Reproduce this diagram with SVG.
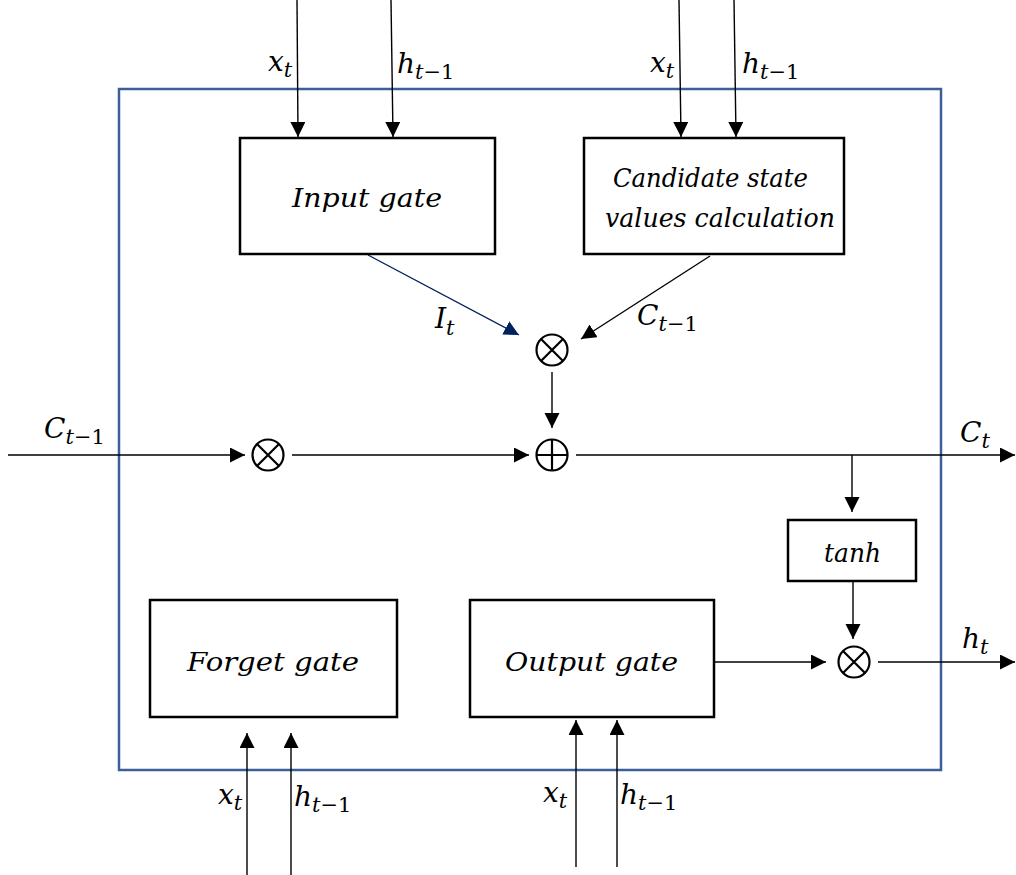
<svg xmlns="http://www.w3.org/2000/svg" width="1016" height="875" viewBox="0 0 1016 875">
<defs>
<style>
.box{fill:#fff;stroke:#000;stroke-width:2.5}
.frame{fill:none;stroke:#3C5F9C;stroke-width:2.5}
.ln{stroke:#000;stroke-width:1.4;fill:none}
.op{fill:none;stroke:#000;stroke-width:2.2}
.t{font-family:"DejaVu Serif","Liberation Serif",serif;font-style:italic;font-size:26px;fill:#000}
.m{font-family:"DejaVu Serif","Liberation Serif",serif;font-style:italic;font-size:28px;fill:#000}
.s{font-size:21px}
.u{font-style:normal}
</style>
<marker id="ah" markerUnits="userSpaceOnUse" markerWidth="16" markerHeight="16" refX="15" refY="7.5" orient="auto"><path d="M0,0 L15,7.5 L0,15 z" fill="#000"/></marker>
<marker id="ahb" markerUnits="userSpaceOnUse" markerWidth="16" markerHeight="16" refX="15" refY="7.5" orient="auto"><path d="M0,0 L15,7.5 L0,15 z" fill="#002060"/></marker>
</defs>
<rect width="1016" height="875" fill="#fff"/>
<g id="cell"><rect class="frame" x="119" y="89" width="822" height="681"/></g>
<g id="connectors">
<line class="ln" x1="297" y1="0" x2="298" y2="137" marker-end="url(#ah)"/>
<line class="ln" x1="391" y1="0" x2="393" y2="137" marker-end="url(#ah)"/>
<line class="ln" x1="679" y1="0" x2="681" y2="137" marker-end="url(#ah)"/>
<line class="ln" x1="734" y1="0" x2="736" y2="137" marker-end="url(#ah)"/>
<line x1="368" y1="255" x2="519" y2="335" stroke="#002060" stroke-width="1.4" marker-end="url(#ahb)"/>
<line class="ln" x1="710" y1="256" x2="581" y2="339" marker-end="url(#ah)"/>
<line class="ln" x1="552" y1="372" x2="552" y2="428" marker-end="url(#ah)"/>
<line class="ln" x1="8" y1="455" x2="245" y2="455" marker-end="url(#ah)"/>
<line class="ln" x1="292" y1="455" x2="529" y2="455" marker-end="url(#ah)"/>
<line class="ln" x1="576" y1="455" x2="1015" y2="455" marker-end="url(#ah)"/>
<line class="ln" x1="852" y1="455" x2="852" y2="512" marker-end="url(#ah)"/>
<line class="ln" x1="853" y1="581" x2="853" y2="639" marker-end="url(#ah)"/>
<line class="ln" x1="714" y1="662" x2="826" y2="662" marker-end="url(#ah)"/>
<line class="ln" x1="878" y1="662" x2="1015" y2="662" marker-end="url(#ah)"/>
<line class="ln" x1="247" y1="875" x2="247" y2="733" marker-end="url(#ah)"/>
<line class="ln" x1="291" y1="875" x2="291" y2="733" marker-end="url(#ah)"/>
<line class="ln" x1="576" y1="867" x2="576" y2="720" marker-end="url(#ah)"/>
<line class="ln" x1="617" y1="867" x2="617" y2="720" marker-end="url(#ah)"/>
</g>
<g id="input-gate"><rect class="box" x="240" y="138" width="255" height="116"/><text class="t" x="292" y="207" textLength="150" lengthAdjust="spacingAndGlyphs">Input gate</text></g>
<g id="candidate"><rect class="box" x="584" y="138" width="260" height="116"/>
<text class="t" x="613" y="187" textLength="195" lengthAdjust="spacingAndGlyphs">Candidate state</text>
<text class="t" x="605" y="227" textLength="230" lengthAdjust="spacingAndGlyphs">values calculation</text></g>
<g id="forget-gate"><rect class="box" x="150" y="600" width="247" height="117"/><text class="t" x="187" y="671" textLength="172" lengthAdjust="spacingAndGlyphs">Forget gate</text></g>
<g id="output-gate"><rect class="box" x="470" y="600" width="244" height="117"/><text class="t" x="505" y="671" textLength="173" lengthAdjust="spacingAndGlyphs">Output gate</text></g>
<g id="tanh"><rect class="box" x="788" y="520" width="128" height="61"/><text class="t" x="824" y="562" textLength="57" lengthAdjust="spacingAndGlyphs">tanh</text></g>
<g id="mul-top"><circle class="op" cx="552" cy="350" r="15.5"/><path class="op" d="M541,339 L563,361 M563,339 L541,361"/></g>
<g id="add"><circle class="op" cx="552" cy="455" r="15.5"/><path class="op" d="M536.5,455 H567.5 M552,439.5 V470.5"/></g>
<g id="mul-left"><circle class="op" cx="268" cy="455" r="15.5"/><path class="op" d="M257,444 L279,466 M279,444 L257,466"/></g>
<g id="mul-out"><circle class="op" cx="854" cy="662" r="15.5"/><path class="op" d="M843,651 L865,673 M865,651 L843,673"/></g>
<g id="labels">
<text class="m" x="268" y="71">x<tspan class="s" dy="6">t</tspan></text>
<text class="m" x="397" y="73">h<tspan class="s" dy="6">t<tspan class="u">−1</tspan></tspan></text>
<text class="m" x="650" y="72">x<tspan class="s" dy="6">t</tspan></text>
<text class="m" x="742" y="73">h<tspan class="s" dy="6">t<tspan class="u">−1</tspan></tspan></text>
<text class="m" x="435" y="328">I<tspan class="s" dy="7">t</tspan></text>
<text class="m" x="637" y="325">C<tspan class="s" dy="6">t<tspan class="u">−1</tspan></tspan></text>
<text class="m" x="44" y="438">C<tspan class="s" dy="6">t<tspan class="u">−1</tspan></tspan></text>
<text class="m" x="960" y="442">C<tspan class="s" dy="6">t</tspan></text>
<text class="m" x="962" y="648">h<tspan class="s" dy="6">t</tspan></text>
<text class="m" x="218" y="804">x<tspan class="s" dy="6">t</tspan></text>
<text class="m" x="294" y="806">h<tspan class="s" dy="6">t<tspan class="u">−1</tspan></tspan></text>
<text class="m" x="543" y="802">x<tspan class="s" dy="6">t</tspan></text>
<text class="m" x="620" y="804">h<tspan class="s" dy="6">t<tspan class="u">−1</tspan></tspan></text>
</g>
</svg>
